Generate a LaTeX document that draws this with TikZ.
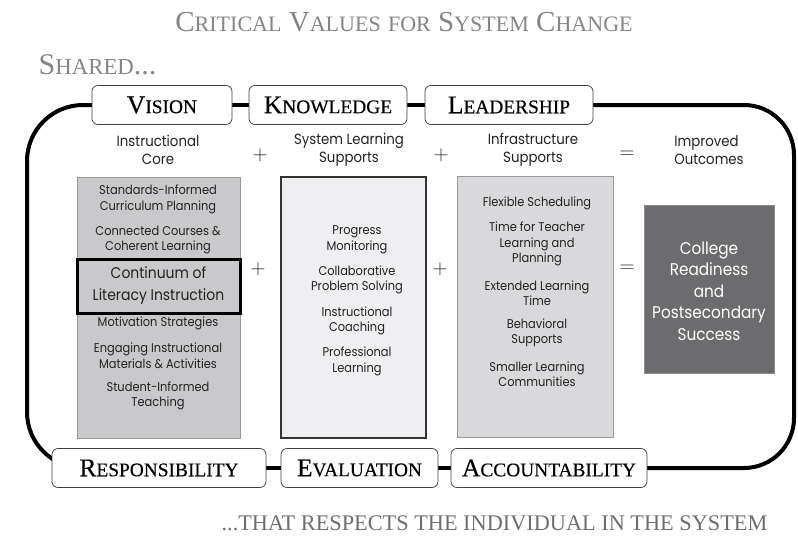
\documentclass[tikz,border=0pt]{standalone}
\usepackage{fontspec}
\setmainfont{Liberation Serif}
\newfontfamily\valuefont[FakeBold=0.35]{Liberation Serif}
\newfontfamily\gothic[FakeStretch=0.9]{Poppins}
\usetikzlibrary{backgrounds}

\definecolor{headgray}{HTML}{858585}
\definecolor{footgray}{HTML}{6E6E6E}
\definecolor{txtgray}{HTML}{222222}
\definecolor{corefill}{HTML}{C9C9CB}
\definecolor{learnfill}{HTML}{EFEFF1}
\definecolor{infrafill}{HTML}{D9D9DB}
\definecolor{outfill}{HTML}{6C6C6E}

% fake small caps: first letter full size, rest smaller
\makeatletter
\newcommand\scw[2]{#1{\fontsize{\the\dimexpr0.76\dimexpr\f@size pt\relax\relax}{0pt}\selectfont #2}}
\makeatother

\tikzset{every picture/.style={line width=0.75pt}}
\tikzset{
  frame/.style={line width=4pt, black},
  label/.style={draw=black!75, fill=white, rounded corners=6pt, minimum height=39pt, inner sep=0pt, font=\valuefont\fontsize{25.5}{25.5}\selectfont},
  colhead/.style={align=center, text=txtgray, font=\gothic\fontsize{14.8}{18.5}\selectfont},
  item/.style={align=center, text=txtgray, font=\gothic\fontsize{12.7}{15.5}\selectfont},
  sign/.style={text=txtgray, font=\fontsize{20}{20}\selectfont},
  colbox/.style={minimum width=#1, inner sep=0pt, minimum height=261pt},
}

\begin{document}
\begin{tikzpicture}[x=1pt,y=1pt,yscale=-1]
\useasboundingbox (0,0) rectangle (798,539);

% Titles
\node[text=headgray, font=\fontsize{29}{29}\selectfont] (title) at (404,22) {\scw{C}{RITICAL} \scw{V}{ALUES} {\fontsize{22}{22}\selectfont FOR} \scw{S}{YSTEM} \scw{C}{HANGE}};
\node[text=headgray, font=\fontsize{30}{30}\selectfont, anchor=west] (shared) at (35,65) {\scw{S}{HARED}...};
\node[text=footgray, font=\fontsize{22.3}{22.3}\selectfont] (respect) at (494.5,523) {...THAT RESPECTS THE INDIVIDUAL IN THE SYSTEM};

% Value labels
\node[label, minimum width=140pt] (vis) at (162,105) {\scw{V}{ISION}};
\node[label, minimum width=158pt] (know) at (328,105) {\scw{K}{NOWLEDGE}};
\node[label, minimum width=168pt] (lead) at (509,105) {\scw{L}{EADERSHIP}};
\node[label, minimum width=214pt] (resp) at (159,468) {\scw{R}{ESPONSIBILITY}};
\node[label, minimum width=157pt] (eval) at (359.5,468) {\scw{E}{VALUATION}};
\node[label, minimum width=196pt] (acc) at (549,468) {\scw{A}{CCOUNTABILITY}};

% Column headings
\node[colhead] (core) at (158,150) {Instructional\\Core};
\node[colhead] (sysl) at (349,150) {System Learning\\Supports};
\node[colhead] (infra) at (533,150) {Infrastructure\\Supports};
\node[colhead, align=left] (outc) at (709,150) {Improved\\Outcomes};
\node[sign] (p1) at (260,155) {$+$};
\node[sign] (p2) at (441,155) {$+$};
\node[sign] (e1) at (627,155) {$=$};

% Column boxes
\node[colbox=163pt, fill=corefill, draw=black!40] (corebox) at (158.5,308) {};
\node[colbox=145pt, fill=learnfill, draw=black!80, line width=1.2pt] (learnbox) at (353.5,307.5) {};
\node[colbox=156pt, fill=infrafill, draw=black!40] (infrabox) at (535,307) {};
\node[minimum width=130pt, minimum height=168pt, inner sep=0pt, fill=outfill, draw=black!45] (outbox) at (709,289) {};
\node[sign] (p3) at (258,269) {$+$};
\node[sign] (p4) at (440,269) {$+$};
\node[sign] (e2) at (627,269) {$=$};

% Instructional core
\node[item] (c1) at (158,199.5) {Standards-Informed\\Curriculum Planning};
\node[item] (c2) at (158,240) {Connected Courses \&\\Coherent Learning};
\node[item, font=\gothic\fontsize{15.5}{22}\selectfont, draw=black, line width=3pt, fill=corefill, minimum width=163pt, minimum height=54pt, inner sep=0pt] (cont) at (158.5,286) {Continuum of\\Literacy Instruction};
\node[item] (c3) at (158,323) {Motivation Strategies};
\node[item] (c4) at (158,355.5) {Engaging Instructional\\Materials \& Activities};
\node[item] (c5) at (158,396) {Student-Informed\\Teaching};

% System learning supports
\node[item] (s1) at (357,240) {Progress\\Monitoring};
\node[item] (s2) at (357,280) {Collaborative\\Problem Solving};
\node[item] (s3) at (357,321) {Instructional\\Coaching};
\node[item] (s4) at (357,361.5) {Professional\\Learning};

% Infrastructure supports
\node[item] (i1) at (537,203) {Flexible Scheduling};
\node[item] (i2) at (537,244) {Time for Teacher\\Learning and\\Planning};
\node[item] (i3) at (537,293) {Extended Learning\\Time};
\node[item] (i4) at (537,333) {Behavioral\\Supports};
\node[item] (i5) at (537,374) {Smaller Learning\\Communities};

% Outcome
\node[align=center, text=white, font=\gothic\fontsize{17}{21.5}\selectfont] (o1) at (709,291) {College\\Readiness\\and\\Postsecondary\\Success};

% Frame joining the values
\begin{scope}[on background layer]
  \coordinate (tl) at (27,105);
  \coordinate (br) at (794,468);
  \draw[frame, rounded corners=56pt] (vis.center) -- (tl) -- (tl |- br) -- (resp.center);
  \draw[frame, rounded corners=50pt] (lead.center) -- (tl -| br) -- (br) -- (acc.center);
  \draw[frame] (vis) -- (know);
  \draw[frame] (know) -- (lead);
  \draw[frame] (resp) -- (eval);
  \draw[frame] (eval) -- (acc);
\end{scope}

\end{tikzpicture}
\end{document}
